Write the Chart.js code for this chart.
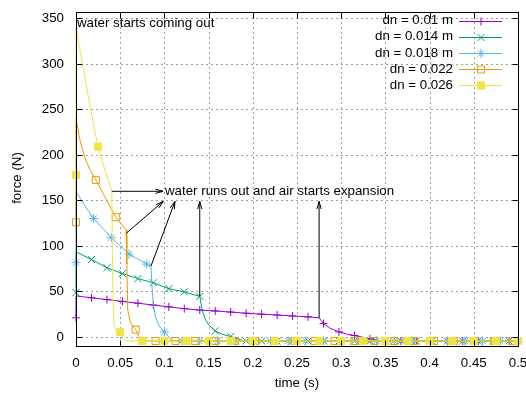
<!DOCTYPE html>
<html>
<head>
<meta charset="utf-8">
<script src="https://cdn.jsdelivr.net/npm/chart.js@4.4.1/dist/chart.umd.min.js"></script>
<style>
  html, body { margin: 0; padding: 0; background: #fff; }
  #wrap { width: 526px; height: 396px; }
</style>
</head>
<body>
<div id="wrap"><canvas id="myChart" width="526" height="396"></canvas></div>
<script>
// legend names
var seriesNames = ['dn = 0.01 m', 'dn = 0.014 m', 'dn = 0.018 m', 'dn = 0.022', 'dn = 0.026'];

// curve vertices: time (s) / force (N)
var t01 = [0, 0, 0.0175, 0.035, 0.0525, 0.07, 0.0875, 0.105, 0.1225, 0.14, 0.1575, 0.175, 0.1925, 0.21, 0.2275, 0.245, 0.2625, 0.275, 0.278, 0.28, 0.2875, 0.2975, 0.306, 0.315, 0.3325, 0.345, 0.5];
var f01 = [21, 45, 43, 41, 39, 37, 35, 33, 31, 29.5, 28.5, 27.3, 26, 25, 24, 23, 22, 21, 17, 14.6, 9.5, 5.5, 3.2, 1.5, -2, -4.5, -4.5];

var t014 = [0, 0, 0.0175, 0.035, 0.0525, 0.07, 0.0875, 0.105, 0.1225, 0.14, 0.1415, 0.143, 0.146, 0.15, 0.1575, 0.165, 0.175, 0.19, 0.5];
var f014 = [48.6, 93.5, 85, 76, 69.5, 64, 59.5, 53, 49.5, 44.5, 36, 28.5, 20, 13.5, 6.6, 3, 0.4, -4.5, -4.5];

var t018 = [0, 0, 0.01, 0.02, 0.04, 0.06, 0.08, 0.0848, 0.086, 0.0875, 0.09, 0.094, 0.1, 0.104, 0.109, 0.5];
var f018 = [81.5, 160, 144, 130, 109, 91, 80, 77.7, 55, 36, 22, 12, 5.5, 1, -4.5, -4.5];

var t022 = [0, 0, 0.0045, 0.01, 0.016, 0.0225, 0.03, 0.0375, 0.045, 0.05, 0.0566, 0.0575, 0.0585, 0.061, 0.064, 0.0675, 0.0705, 0.0735, 0.5];
var f022 = [126, 240, 216, 197, 183, 172.5, 159, 145, 131.5, 125, 118, 80, 30, 18, 12, 8, 2, -4.5, -4.5];

var t026 = [0, 0, 0.005, 0.01, 0.015, 0.02, 0.025, 0.03, 0.035, 0.0405, 0.0415, 0.043, 0.046, 0.05, 0.053, 0.056, 0.5];
var f026 = [178, 340, 312, 285, 258, 232, 209, 192, 177, 161, 60, 12, 7, 5, 0, -4.5, -4.5];

// where the point symbols sit
var mt01 = [0, 0.0175, 0.035, 0.0525, 0.07, 0.0875, 0.105, 0.1225, 0.14, 0.1575, 0.175, 0.1925, 0.21, 0.2275, 0.245, 0.2625, 0.28, 0.2975, 0.315, 0.3325, 0.35, 0.3675, 0.385, 0.4025, 0.42, 0.4375, 0.455, 0.4725, 0.49];
var mf01 = [21, 43, 41, 39, 37, 35, 33, 31, 29.5, 28.5, 27.3, 26, 25, 24, 23, 22, 14.6, 5.5, 1.5, -2, -4.5, -4.5, -4.5, -4.5, -4.5, -4.5, -4.5, -4.5, -4.5];

var mt014 = [0, 0.0175, 0.035, 0.0525, 0.07, 0.0875, 0.105, 0.1225, 0.14, 0.1575, 0.175, 0.1925, 0.21, 0.2275, 0.245, 0.2625, 0.28, 0.2975, 0.315, 0.3325, 0.35, 0.3675, 0.385, 0.4025, 0.42, 0.4375, 0.455, 0.4725, 0.49];
var mf014 = [48.6, 85, 76, 69.5, 64, 59.5, 53, 49.5, 44.5, 6.6, 0.4, -4.5, -4.5, -4.5, -4.5, -4.5, -4.5, -4.5, -4.5, -4.5, -4.5, -4.5, -4.5, -4.5, -4.5, -4.5, -4.5, -4.5, -4.5];

var mt018 = [0, 0.02, 0.04, 0.06, 0.08, 0.1, 0.12, 0.14, 0.16, 0.18, 0.2, 0.22, 0.24, 0.26, 0.28, 0.3, 0.32, 0.34, 0.36, 0.38, 0.4, 0.42, 0.44, 0.46, 0.48, 0.5];
var mf018 = [81.5, 130, 109, 91, 80, 5.5, -4.5, -4.5, -4.5, -4.5, -4.5, -4.5, -4.5, -4.5, -4.5, -4.5, -4.5, -4.5, -4.5, -4.5, -4.5, -4.5, -4.5, -4.5, -4.5, -4.5];

var mt022 = [0, 0.0225, 0.045, 0.0675, 0.09, 0.1125, 0.135, 0.1575, 0.18, 0.2025, 0.225, 0.2475, 0.27, 0.2925, 0.315, 0.3375, 0.36, 0.3825, 0.405, 0.4275, 0.45, 0.4725, 0.495];
var mf022 = [126, 172.5, 131.5, 8, -4.5, -4.5, -4.5, -4.5, -4.5, -4.5, -4.5, -4.5, -4.5, -4.5, -4.5, -4.5, -4.5, -4.5, -4.5, -4.5, -4.5, -4.5, -4.5];

var mt026 = [0, 0.025, 0.05, 0.075, 0.1, 0.125, 0.15, 0.175, 0.2, 0.225, 0.25, 0.275, 0.3, 0.325, 0.35, 0.375, 0.4, 0.425, 0.45, 0.475, 0.5];
var mf026 = [178, 209, 5, -4.5, -4.5, -4.5, -4.5, -4.5, -4.5, -4.5, -4.5, -4.5, -4.5, -4.5, -4.5, -4.5, -4.5, -4.5, -4.5, -4.5, -4.5];

// axis ticks
var xTicks = [0, 0.05, 0.1, 0.15, 0.2, 0.25, 0.3, 0.35, 0.4, 0.45, 0.5];
var xTickLabels = ['0', '0.05', '0.1', '0.15', '0.2', '0.25', '0.3', '0.35', '0.4', '0.45', '0.5'];
var yTicks = [0, 50, 100, 150, 200, 250, 300, 350];
var yTickLabels = ['0', '50', '100', '150', '200', '250', '300', '350'];

// annotations (data coords)
var noteTop = {text: 'water starts coming out', x: 0.001, y: 345};
var noteMid = {text: 'water runs out and air starts expansion', x: 0.1007, y: 160};
var noteArrows = [
  [0.0405, 160, 0.0985, 160],
  [0.057, 114, 0.0988, 149],
  [0.0848, 77.7, 0.112, 149],
  [0.14, 44.5, 0.14, 149],
  [0.275, 21, 0.275, 149]
];

var lines = [[t01, f01], [t014, f014], [t018, f018], [t022, f022], [t026, f026]];
var marks = [[mt01, mf01], [mt014, mf014], [mt018, mf018], [mt022, mf022], [mt026, mf026]];

var colors = ['#9400d3', '#009e73', '#56b4e9', '#e69f00', '#f0e442'];
var pStyle = ['cross', 'crossRot', 'star', 'rect', 'rect'];
var pSize = [4, 5, 4.5, 5, 5];
var pFill = ['rgba(0,0,0,0)', 'rgba(0,0,0,0)', 'rgba(0,0,0,0)', 'rgba(0,0,0,0)', '#f0e442'];
var FAMILY = '"Liberation Sans", Arial, sans-serif';
var FONT = '13.3px ' + FAMILY;

function pts(t, f) {
  return t.map(function (v, i) { return {x: v, y: f[i]}; });
}

var datasets = [];
for (var i = 0; i < 5; i++) {
  datasets.push({
    label: seriesNames[i],
    data: pts(lines[i][0], lines[i][1]),
    borderColor: colors[i],
    borderWidth: 1,
    pointRadius: 0,
    tension: 0,
    clip: false,
    order: 10 - 2 * i
  });
  datasets.push({
    label: seriesNames[i] + ' pts',
    data: pts(marks[i][0], marks[i][1]),
    showLine: false,
    borderColor: colors[i],
    backgroundColor: pFill[i],
    pointStyle: pStyle[i],
    pointRadius: pSize[i],
    pointBorderWidth: 1,
    clip: false,
    order: 9 - 2 * i
  });
}

function arrow(ctx, x1, y1, x2, y2) {
  var a = Math.atan2(y2 - y1, x2 - x1), L = 8, w = 0.27;
  ctx.beginPath();
  ctx.moveTo(x1, y1); ctx.lineTo(x2, y2);
  ctx.moveTo(x2 - L * Math.cos(a - w), y2 - L * Math.sin(a - w));
  ctx.lineTo(x2, y2);
  ctx.lineTo(x2 - L * Math.cos(a + w), y2 - L * Math.sin(a + w));
  ctx.stroke();
}

var frame = {
  id: 'frame',
  beforeDatasetsDraw: function (chart) {
    var ctx = chart.ctx, a = chart.chartArea, xs = chart.scales.x, ys = chart.scales.y;
    ctx.save();
    ctx.strokeStyle = '#a0a0a0';
    ctx.lineWidth = 1;
    ctx.setLineDash([2, 3]);
    xTicks.forEach(function (v) {
      var px = Math.round(xs.getPixelForValue(v)) + 0.5;
      ctx.beginPath(); ctx.moveTo(px, a.top); ctx.lineTo(px, a.bottom); ctx.stroke();
    });
    yTicks.forEach(function (v) {
      var py = Math.round(ys.getPixelForValue(v)) + 0.5;
      ctx.beginPath(); ctx.moveTo(a.left, py); ctx.lineTo(a.right, py); ctx.stroke();
    });
    ctx.restore();
  },
  afterDatasetsDraw: function (chart) {
    var ctx = chart.ctx, a = chart.chartArea, xs = chart.scales.x, ys = chart.scales.y;
    ctx.save();
    // border and inward ticks
    ctx.strokeStyle = '#000';
    ctx.lineWidth = 1;
    var L = Math.round(a.left) + 0.5, R = Math.round(a.right) + 0.5;
    var T = Math.round(a.top) + 0.5, B = Math.round(a.bottom) + 0.5;
    ctx.strokeRect(L, T, R - L, B - T);
    ctx.beginPath();
    xTicks.forEach(function (v) {
      var px = Math.round(xs.getPixelForValue(v)) + 0.5;
      ctx.moveTo(px, B); ctx.lineTo(px, B - 6);
      ctx.moveTo(px, T); ctx.lineTo(px, T + 6);
    });
    yTicks.forEach(function (v) {
      var py = Math.round(ys.getPixelForValue(v)) + 0.5;
      ctx.moveTo(L, py); ctx.lineTo(L + 6, py);
      ctx.moveTo(R, py); ctx.lineTo(R - 6, py);
    });
    ctx.stroke();

    // notes and arrows
    ctx.fillStyle = '#000';
    ctx.font = FONT;
    ctx.textBaseline = 'middle';
    ctx.textAlign = 'left';
    ctx.fillText(noteTop.text, xs.getPixelForValue(noteTop.x), ys.getPixelForValue(noteTop.y));
    ctx.fillText(noteMid.text, xs.getPixelForValue(noteMid.x), ys.getPixelForValue(noteMid.y));
    noteArrows.forEach(function (r) {
      arrow(ctx, xs.getPixelForValue(r[0]), ys.getPixelForValue(r[1]),
                 xs.getPixelForValue(r[2]), ys.getPixelForValue(r[3]));
    });

    // legend
    for (var i = 0; i < 5; i++) {
      var y = 20.7 + 16.1 * i;
      ctx.fillStyle = '#000';
      ctx.textAlign = 'right';
      ctx.fillText(seriesNames[i], 453, y);
      ctx.strokeStyle = colors[i];
      ctx.beginPath(); ctx.moveTo(459, Math.round(y) + 0.5); ctx.lineTo(502, Math.round(y) + 0.5); ctx.stroke();
      ctx.fillStyle = pFill[i];
      Chart.helpers.drawPoint(ctx, {pointStyle: pStyle[i], radius: pSize[i], rotation: 0, borderWidth: 1}, 481, Math.round(y) + 0.5);
    }

    // axis titles
    ctx.fillStyle = '#000';
    ctx.textAlign = 'center';
    ctx.fillText('time (s)', (a.left + a.right) / 2, 383);
    ctx.translate(17, 178);
    ctx.rotate(-Math.PI / 2);
    ctx.fillText('force (N)', 0, 0);
    ctx.restore();
  }
};

var ctx = document.getElementById('myChart').getContext('2d');
var chart = new Chart(ctx, {
  type: 'line',
  data: {datasets: datasets},
  options: {
    responsive: false,
    animation: false,
    events: [],
    layout: {padding: {left: 0, top: 12, right: 8, bottom: 0}},
    scales: {
      x: {
        type: 'linear',
        min: 0, max: 0.5,
        afterBuildTicks: function (s) { s.ticks = xTicks.map(function (v) { return {value: v}; }); },
        afterFit: function (s) { s.height = 50; s.paddingLeft = 0; s.paddingRight = 0; },
        grid: {display: false, drawTicks: false},
        border: {display: false},
        ticks: {
          autoSkip: false, maxRotation: 0, padding: 9, color: '#000',
          font: {family: FAMILY, size: 13.3},
          callback: function (v, i) { return xTickLabels[i]; }
        }
      },
      y: {
        type: 'linear',
        min: -10, max: 357,
        afterBuildTicks: function (s) { s.ticks = yTicks.map(function (v) { return {value: v}; }); },
        afterFit: function (s) { s.width = 76; s.paddingTop = 0; s.paddingBottom = 0; },
        grid: {display: false, drawTicks: false},
        border: {display: false},
        ticks: {
          padding: 12, color: '#000',
          font: {family: FAMILY, size: 13.3},
          callback: function (v, i) { return yTickLabels[i]; }
        }
      }
    },
    plugins: {
      legend: {display: false},
      tooltip: {enabled: false}
    }
  },
  plugins: [frame]
});
</script>
</body>
</html>
